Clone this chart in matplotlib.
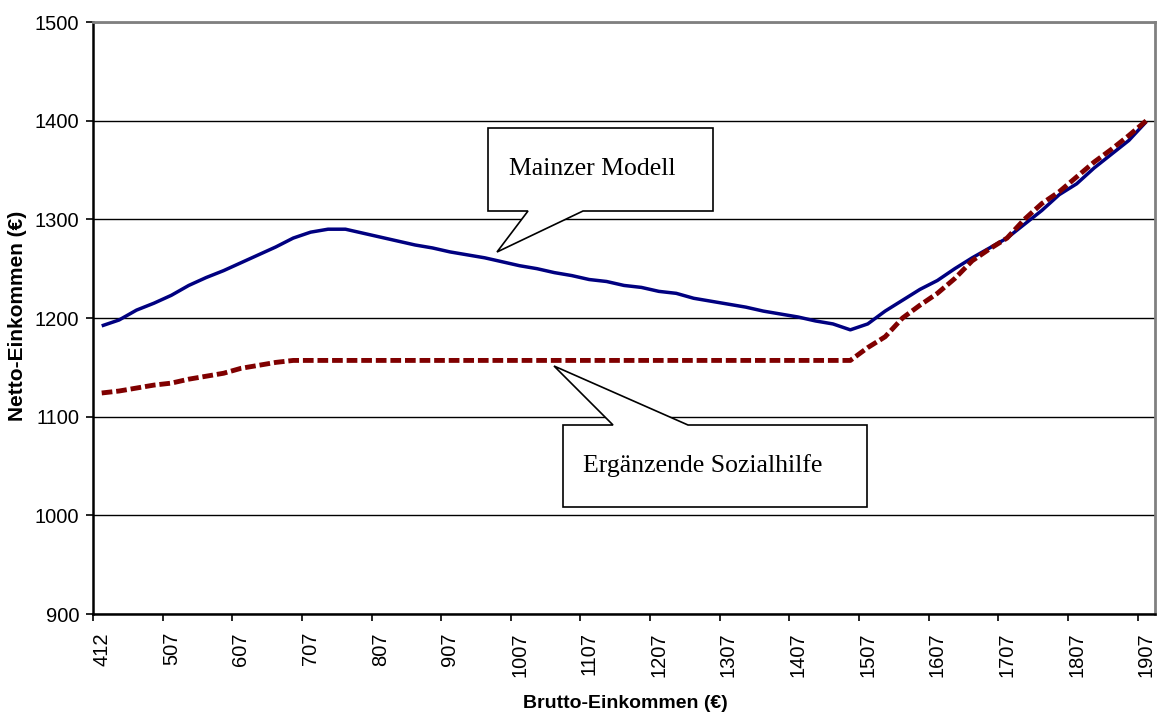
import matplotlib.pyplot as plt
from matplotlib.patches import Polygon
from matplotlib.ticker import FixedLocator

# Brutto categories: 412, then 432..1907 in steps of 25
brutto = [412] + list(range(432, 1908, 25))

mainzer = [1192, 1198, 1208, 1215, 1223, 1233, 1241, 1248, 1256, 1264,
           1272, 1281, 1287, 1290, 1290, 1286, 1282, 1278, 1274, 1271,
           1267, 1264, 1261, 1257, 1253, 1250, 1246, 1243, 1239, 1237,
           1233, 1231, 1227, 1225, 1220, 1217, 1214, 1211, 1207, 1204,
           1201, 1197, 1194, 1188, 1194, 1207, 1218, 1229, 1238, 1250,
           1261, 1271, 1281, 1295, 1309, 1325, 1336, 1352, 1366, 1380,
           1399]

sozialhilfe = [1124, 1126, 1129, 1132, 1134, 1138, 1141, 1144, 1149, 1152,
               1155, 1157, 1157, 1157, 1157, 1157, 1157, 1157, 1157, 1157,
               1157, 1157, 1157, 1157, 1157, 1157, 1157, 1157, 1157, 1157,
               1157, 1157, 1157, 1157, 1157, 1157, 1157, 1157, 1157, 1157,
               1157, 1157, 1157, 1157, 1170, 1181, 1200, 1213, 1225, 1240,
               1258, 1270, 1281, 1300, 1316, 1328, 1343, 1358, 1371, 1385,
               1400]

yticks = [900, 1000, 1100, 1200, 1300, 1400, 1500]

W, H = 1163, 716
fig = plt.figure(figsize=(W / 100, H / 100), dpi=100)
ax = fig.add_axes([93 / W, 1 - 614 / H, 1062 / W, 592 / H])

idx = list(range(len(brutto)))
ax.plot(idx, mainzer, color='#000080', lw=2.5, solid_capstyle='butt', zorder=3)
ax.plot(idx, sozialhilfe, color='#800000', lw=3.5, dashes=(2.2, 0.8),
        dash_capstyle='butt', zorder=3)

ax.set_xlim(-0.5, len(brutto) - 0.5)
ax.set_ylim(900, 1500)
ax.set_yticks(yticks)
ax.set_yticklabels([str(v) for v in yticks], family='Liberation Sans', fontsize=14.5)

lab_idx = idx[::4]
ax.set_xticks(lab_idx)
ax.set_xticklabels([str(brutto[i]) for i in lab_idx], rotation=90,
                   family='Liberation Sans', fontsize=14.5)
ax.xaxis.set_minor_locator(FixedLocator([i - 0.5 for i in lab_idx]))
ax.tick_params(axis='x', which='major', length=0, pad=13)
ax.tick_params(axis='x', which='minor', length=5, width=1.2, direction='out')
ax.tick_params(axis='y', length=5, width=1.2, direction='out', pad=5)

ax.yaxis.grid(True, color='black', lw=1.0)
ax.set_axisbelow(True)
for s in ['top', 'right']:
    ax.spines[s].set_color('#808080')
    ax.spines[s].set_linewidth(2)
for s in ['left', 'bottom']:
    ax.spines[s].set_color('black')
    ax.spines[s].set_linewidth(1.8)


def px(points):
    return [(x / W, 1 - y / H) for x, y in points]


# callout boxes (pixel layout)
mainzer_box = [(488, 128), (713, 128), (713, 211), (583, 211), (497, 252),
               (528, 211), (488, 211)]
sozial_box = [(563, 425), (613, 425), (554, 366), (688, 425), (867, 425),
              (867, 507), (563, 507)]
for pts in (mainzer_box, sozial_box):
    fig.patches.append(Polygon(px(pts), closed=True, facecolor='white',
                               edgecolor='black', lw=1.2,
                               transform=fig.transFigure, zorder=5))

fig.text(509 / W, 1 - 169 / H, 'Mainzer Modell', family='Liberation Serif',
         fontsize=18.5, va='center', ha='left', zorder=6)
fig.text(583 / W, 1 - 466 / H, 'Ergänzende Sozialhilfe', family='Liberation Serif',
         fontsize=18.5, va='center', ha='left', zorder=6)

fig.text(625 / W, 1 - 703 / H, 'Brutto-Einkommen (€)', family='Liberation Sans',
         fontsize=14, fontweight='bold', ha='center', va='center')
fig.text(18 / W, 1 - 316 / H, 'Netto-Einkommen (€)', family='Liberation Sans',
         fontsize=15, fontweight='bold', ha='center', va='center', rotation=90)

fig.savefig('out.png', dpi=100)
